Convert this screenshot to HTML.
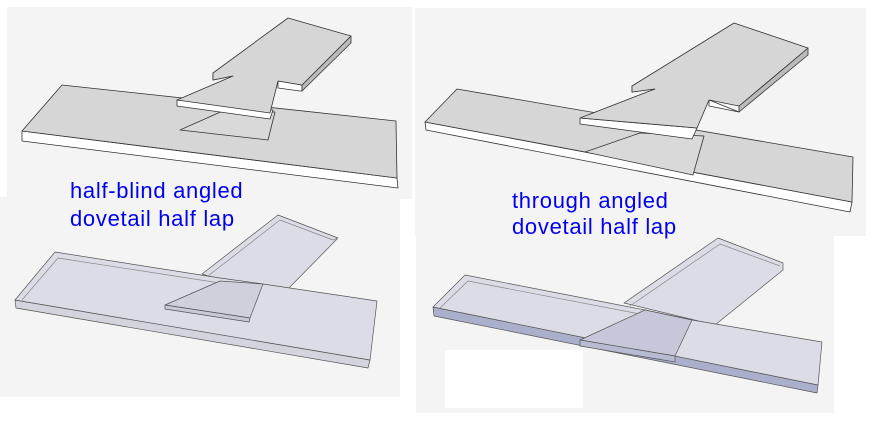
<!DOCTYPE html>
<html><head><style>
body{margin:0;background:#fff;width:887px;height:425px;overflow:hidden;position:relative;font-family:"Comic Sans MS","Liberation Sans",sans-serif}
.t{position:absolute;color:#0000ee;font-size:22px;line-height:26px;white-space:nowrap;letter-spacing:0.7px}
</style></head><body>
<svg width="887" height="425" style="position:absolute;left:0;top:0" stroke="#333" stroke-width="0.8" stroke-linejoin="round">
<rect x="7" y="7" width="405" height="192" fill="#f4f4f4" stroke="none"/>
<rect x="415" y="8" width="451" height="228" fill="#f4f4f4" stroke="none"/>
<rect x="0" y="197" width="400" height="200" fill="#f4f4f4" stroke="none"/>
<rect x="416" y="236" width="418" height="177" fill="#f4f4f4" stroke="none"/>
<rect x="445" y="350" width="138" height="58" fill="#fff" stroke="none"/>
<!-- top-left -->
<polygon points="22,131 22,141 398,188 397,178" fill="#fff"/>
<polygon points="22,131 62,85 396,121 397,178" fill="#d6d6d6"/>
<polygon points="180,130 225,110 275,112 268,140" fill="#d9d9d9"/>
<polygon points="177,100 177,106 270,119 273,110" fill="#fff"/>
<polygon points="278,81 278,88 300,91 302,91 302,85" fill="#fff"/>
<polygon points="302,85 302,91 351,43 351,36" fill="#bbb"/>
<polygon points="213,73 213,80 233,76" fill="#fff"/>
<polygon points="177,100 233,76 213,80 213,73 288,18 351,36 302,85 278,81 270,113" fill="#d6d6d6"/>
<!-- top-right -->
<polygon points="425,122 426,130 850,212 852,202" fill="#fff"/>
<polygon points="425,122 457,89 853,157 852,202" fill="#d6d6d6"/>
<polygon points="585,152 640,133 704,136 693,175" fill="#d9d9d9"/>
<polygon points="580,118 580,124 692,139 697,128" fill="#fff"/>
<polygon points="709,100 709,106 739,112" fill="#fff"/>
<polygon points="739,106 739,112 808,55 808,48" fill="#bbb"/>
<polygon points="632,86 632,92 655,89" fill="#fff"/>
<polygon points="580,118 655,89 632,92 632,86 734,23 808,48 739,106 709,100 697,128" fill="#d6d6d6"/>
<!-- bottom-left -->
<g stroke="#555" stroke-width="0.7">
<polygon points="202,274 278,215 338,238 287,290 220,280" fill="#dcdce6"/>
<polyline points="208,276 280,220 333,240 338,238" fill="none" stroke="#888"/>
<polygon points="15,300 16,308 368,368 370,360" fill="#d4d4de"/>
<polygon points="15,300 55,252 220,278 263,284 377,301 370,360" fill="#dcdce6"/>
<polyline points="22,300 58,258 220,283 M263,290 374,306 370,360" fill="none" stroke="#888"/>
<polygon points="165,305 220,281 263,284 250,318" fill="#d0d0dc"/>
<polygon points="165,305 165,309 249,322 250,318" fill="#c8c8d6"/>
</g>
<!-- bottom-right -->
<g stroke="#555" stroke-width="0.7">
<polygon points="624,303 718,238 783,263 783,270 715,325" fill="#dcdce6"/>
<polyline points="630,306 720,244 780,266" fill="none" stroke="#888"/>
<polygon points="433,307 434,316 817,393 818,385" fill="#aab0cc"/>
<polygon points="433,307 465,275 645,310 692,320 822,342 818,385" fill="#dcdce6"/>
<polyline points="440,308 468,281 640,314 M700,325 820,347 818,385" fill="none" stroke="#888"/>
<polygon points="580,340 645,310 692,320 675,356" fill="#c6c8da"/>
<polygon points="580,340 580,346 675,362 675,356" fill="#b8bcd2"/>
</g>
</svg>
<div class="t" style="left:70px;top:178px">half-blind angled</div>
<div class="t" style="left:70px;top:206px">dovetail half lap</div>
<div class="t" style="left:512px;top:188px">through angled</div>
<div class="t" style="left:512px;top:214px">dovetail half lap</div>
</body></html>
